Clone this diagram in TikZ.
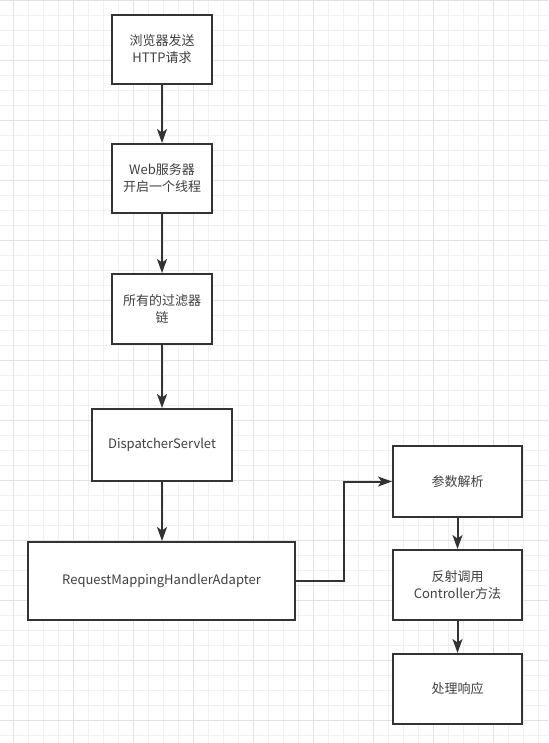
\documentclass[tikz,border=0pt]{standalone}
\usepackage{fontspec}
\setmainfont{Noto Sans CJK SC}
\usepackage{xcolor}
\usepackage{tikz}
\usetikzlibrary{arrows.meta, positioning}
\definecolor{inkdark}{RGB}{51, 51, 51}
\definecolor{inktext}{RGB}{64, 64, 64}
\definecolor{gridminor}{RGB}{240, 240, 240}
\definecolor{gridmajor}{RGB}{226, 226, 226}
\tikzset{
    blk/.style ={draw=inkdark, line width=2pt, fill=white, text=inktext,
                 minimum width=100pt, minimum height=69pt, inner sep=0pt,
                 align=center, font=\fontsize{13}{17}\selectfont},
    ar/.style  ={-{Stealth[length=14pt, width=10pt, inset=3.5pt]},
                 line width=2pt, draw=inkdark},
    gmin/.style={draw=gridminor, line width=0.8pt},
    gmaj/.style={draw=gridmajor, line width=0.8pt}
}

\begin{document}
\begin{tikzpicture}[x=1pt, y=-1pt]
  \useasboundingbox (0,0) rectangle (548,743);

  % background grid, 15px cells, 60px blocks
  \foreach \gx in {13,28,...,548} \draw[gmin] (\gx,0) -- (\gx,743);
  \foreach \gy in {0,15,...,743} \draw[gmin] (0,\gy) -- (548,\gy);
  \foreach \gx in {13,73,...,548} \draw[gmaj] (\gx,0) -- (\gx,743);
  \foreach \gy in {0,60,...,743} \draw[gmaj] (0,\gy) -- (548,\gy);

  % main chain
  \node[blk] (browser)  at (162, 49.5) {浏览器发送\\HTTP请求};
  \node[blk] (websrv)   at (162,178.5) {Web服务器\\开启一个线程};
  \node[blk, minimum height=70pt] (filters) at (162,309) {所有的过滤器\\链};
  \node[blk, minimum width=140pt, minimum height=72pt] (dispatch) at (162,445)
       {DispatcherServlet};
  \node[blk, minimum width=267pt, minimum height=78pt] (adapter) at (161.5,581)
       {RequestMappingHandlerAdapter};

  % handler steps
  \node[blk, minimum width=129pt, minimum height=71pt] (params)  at (457.5,481.5) {参数解析};
  \node[blk, minimum width=129pt, minimum height=70pt] (invoke)  at (457.5,585)
       {反射调用\\Controller方法};
  \node[blk, minimum width=129pt, minimum height=70pt] (respond) at (457.5,689) {处理响应};

  \draw[ar] (browser) -- (websrv);
  \draw[ar] (websrv) -- (filters);
  \draw[ar] (filters) -- (dispatch);
  \draw[ar] (dispatch.south) -- (dispatch.south |- adapter.north);
  \draw[ar] (adapter.east) -- ++(48,0) |- (params.west);
  \draw[ar] (params) -- (invoke);
  \draw[ar] (invoke) -- (respond);
\end{tikzpicture}
\end{document}
